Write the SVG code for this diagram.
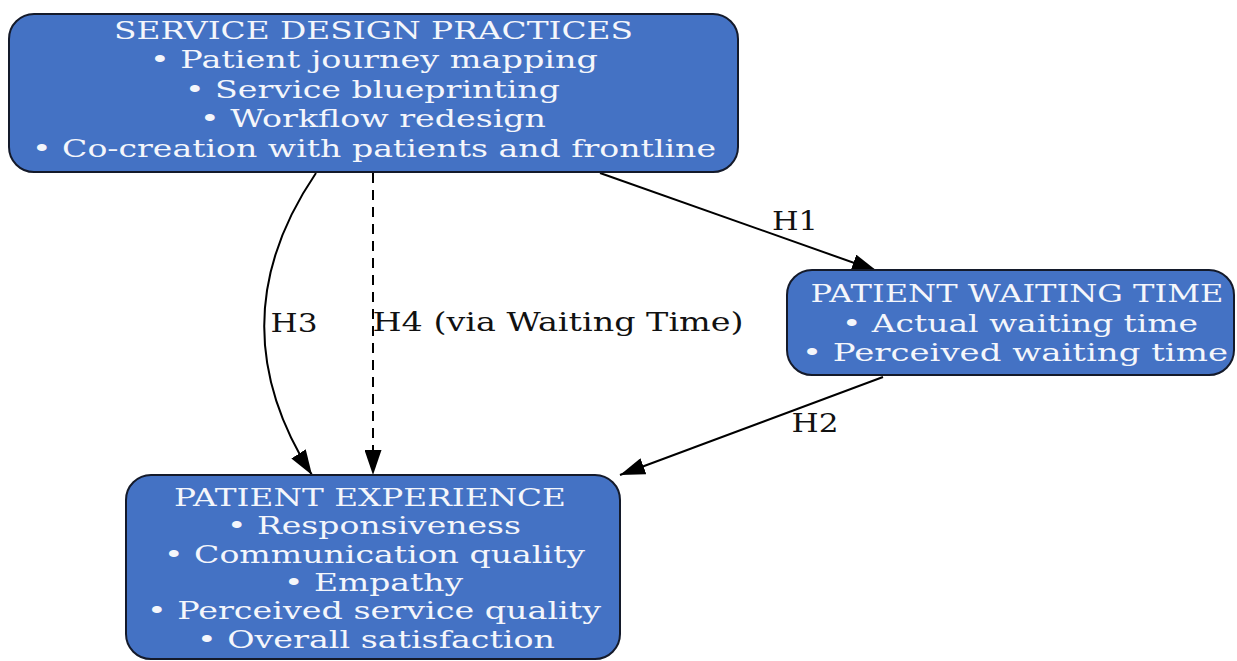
<svg xmlns="http://www.w3.org/2000/svg" width="1237" height="661" viewBox="0 0 1237 661">
<style>
.node rect{fill:#4472c4;stroke:#141a2a;stroke-width:2}
.node text{fill:#f4f6fb;font-family:"DejaVu Serif","Liberation Serif",serif;font-size:25px;text-anchor:middle}
.edge{fill:none;stroke:#000;stroke-width:2}
.dash{stroke-dasharray:10,7}
.lbl{fill:#111;font-family:"DejaVu Serif","Liberation Serif",serif;font-size:26px;text-anchor:middle}
</style>
<defs>
<marker id="ah" viewBox="0 0 25 17" refX="25" refY="8.5" markerWidth="25" markerHeight="17" markerUnits="userSpaceOnUse" orient="auto">
<path d="M0,0 L25,8.5 L0,17 z" fill="#000"/>
</marker>
</defs>
<rect width="1237" height="661" fill="#fff"/>
<g id="connectors">
<path class="edge" d="M600,173 L877,271" marker-end="url(#ah)"/>
<path class="edge" d="M883,377 L620,475" marker-end="url(#ah)"/>
<path class="edge" d="M316,173 C250,270 245,370 312,475" marker-end="url(#ah)"/>
<path class="edge dash" d="M373,173 L373,475" marker-end="url(#ah)"/>
<text class="lbl" x="795" y="230" textLength="46" lengthAdjust="spacingAndGlyphs">H1</text>
<text class="lbl" x="815" y="432" textLength="47" lengthAdjust="spacingAndGlyphs">H2</text>
<text class="lbl" x="294" y="332" textLength="47" lengthAdjust="spacingAndGlyphs">H3</text>
<text class="lbl" x="558" y="331" textLength="371" lengthAdjust="spacingAndGlyphs">H4 (via Waiting Time)</text>
</g>
<g id="service-design" class="node">
<rect x="9" y="14" width="729" height="158" rx="25" ry="25"/>
<text x="373.5" y="38.5" textLength="519" lengthAdjust="spacingAndGlyphs">SERVICE DESIGN PRACTICES</text>
<text x="374" y="68" textLength="448" lengthAdjust="spacingAndGlyphs">• Patient journey mapping</text>
<text x="372.5" y="97.5" textLength="375" lengthAdjust="spacingAndGlyphs">• Service blueprinting</text>
<text x="373" y="127" textLength="346" lengthAdjust="spacingAndGlyphs">• Workflow redesign</text>
<text x="374" y="156.5" textLength="684" lengthAdjust="spacingAndGlyphs">• Co-creation with patients and frontline</text>
</g>
<g id="waiting-time" class="node">
<rect x="787" y="270" width="447" height="105" rx="25" ry="25"/>
<text x="1017" y="301.5" textLength="413" lengthAdjust="spacingAndGlyphs">PATIENT WAITING TIME</text>
<text x="1020" y="331.5" textLength="356" lengthAdjust="spacingAndGlyphs">• Actual waiting time</text>
<text x="1015" y="360.5" textLength="426" lengthAdjust="spacingAndGlyphs">• Perceived waiting time</text>
</g>
<g id="patient-experience" class="node">
<rect x="126" y="475" width="494" height="184" rx="25" ry="25"/>
<text x="370" y="505.5" textLength="392" lengthAdjust="spacingAndGlyphs">PATIENT EXPERIENCE</text>
<text x="374" y="533.5" textLength="294" lengthAdjust="spacingAndGlyphs">• Responsiveness</text>
<text x="374.5" y="562.5" textLength="421" lengthAdjust="spacingAndGlyphs">• Communication quality</text>
<text x="373.5" y="590.5" textLength="179" lengthAdjust="spacingAndGlyphs">• Empathy</text>
<text x="374" y="618.5" textLength="454" lengthAdjust="spacingAndGlyphs">• Perceived service quality</text>
<text x="376" y="647.5" textLength="358" lengthAdjust="spacingAndGlyphs">• Overall satisfaction</text>
</g>
</svg>
